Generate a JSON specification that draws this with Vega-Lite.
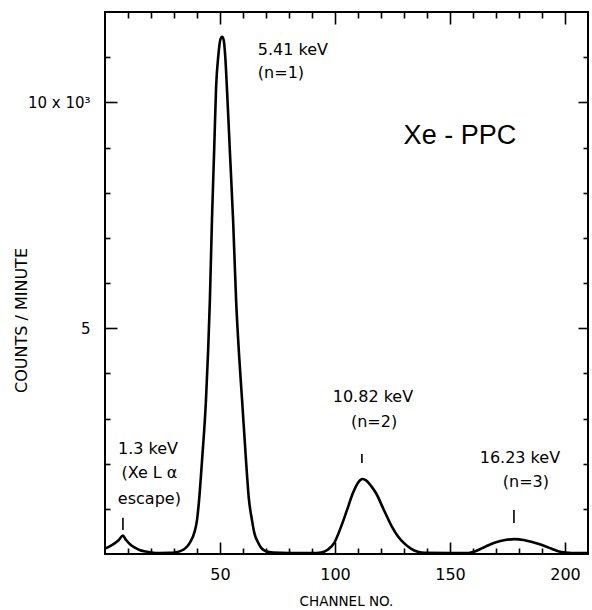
{
  "$schema": "https://vega.github.io/schema/vega-lite/v6.json",
  "autosize": {"type": "none"},
  "padding": {"left": 105, "top": 12, "right": 4, "bottom": 56},
  "width": 483,
  "height": 542,
  "background": "white",
  "config": {
    "view": {"stroke": "black", "strokeWidth": 2},
    "font": "DejaVu Sans",
    "axis": {"domain": false, "grid": false, "tickColor": "black", "tickWidth": 1.6, "labelOverlap": false, "labelFlush": false, "labelColor": "black", "titleColor": "black", "zindex": 1}
  },
  "resolve": {"axis": {"x": "independent", "y": "independent"}},
  "layer": [
    {
      "data": {"values": [
        {"ch": 0, "c": 120}, {"ch": 2, "c": 170}, {"ch": 4, "c": 230}, {"ch": 6, "c": 310},
        {"ch": 7.8, "c": 410}, {"ch": 9, "c": 320}, {"ch": 11, "c": 210}, {"ch": 13, "c": 140},
        {"ch": 15, "c": 90}, {"ch": 17, "c": 60}, {"ch": 20, "c": 35}, {"ch": 24, "c": 22},
        {"ch": 28, "c": 25}, {"ch": 31, "c": 40}, {"ch": 33, "c": 70}, {"ch": 35, "c": 130},
        {"ch": 37, "c": 260}, {"ch": 39, "c": 500}, {"ch": 40, "c": 750}, {"ch": 41, "c": 1250},
        {"ch": 42.2, "c": 2080}, {"ch": 43.9, "c": 3410}, {"ch": 45.6, "c": 5620}, {"ch": 46.5, "c": 7390},
        {"ch": 47.5, "c": 9000}, {"ch": 48.3, "c": 10330}, {"ch": 49.3, "c": 11050}, {"ch": 50.2, "c": 11400},
        {"ch": 50.9, "c": 11450}, {"ch": 51.6, "c": 11380}, {"ch": 52.3, "c": 11000}, {"ch": 53.0, "c": 10330},
        {"ch": 54.4, "c": 8800}, {"ch": 55.7, "c": 7390}, {"ch": 57.0, "c": 5620}, {"ch": 58.3, "c": 4400},
        {"ch": 59.6, "c": 3410}, {"ch": 61.3, "c": 2080}, {"ch": 62.5, "c": 1250}, {"ch": 63.9, "c": 750},
        {"ch": 65, "c": 450}, {"ch": 66.5, "c": 260}, {"ch": 68, "c": 130}, {"ch": 70, "c": 60},
        {"ch": 73, "c": 30}, {"ch": 80, "c": 22}, {"ch": 90, "c": 22}, {"ch": 94, "c": 35},
        {"ch": 97, "c": 100}, {"ch": 99.6, "c": 240}, {"ch": 102.6, "c": 600}, {"ch": 105.2, "c": 970},
        {"ch": 107.8, "c": 1350}, {"ch": 110, "c": 1580}, {"ch": 112, "c": 1660}, {"ch": 113.5, "c": 1630},
        {"ch": 115.5, "c": 1520}, {"ch": 117.8, "c": 1350}, {"ch": 121.3, "c": 970}, {"ch": 124.8, "c": 600},
        {"ch": 127.5, "c": 380}, {"ch": 130, "c": 240}, {"ch": 133, "c": 120}, {"ch": 136, "c": 50},
        {"ch": 139, "c": 25}, {"ch": 150, "c": 20}, {"ch": 158, "c": 22}, {"ch": 161, "c": 60},
        {"ch": 164, "c": 130}, {"ch": 167, "c": 200}, {"ch": 170, "c": 260}, {"ch": 174, "c": 310},
        {"ch": 178, "c": 330}, {"ch": 182, "c": 310}, {"ch": 186, "c": 260}, {"ch": 190, "c": 200},
        {"ch": 194, "c": 120}, {"ch": 197, "c": 60}, {"ch": 200, "c": 30}, {"ch": 203, "c": 20},
        {"ch": 210, "c": 20}
      ]},
      "mark": {"type": "line", "color": "black", "strokeWidth": 2.6, "interpolate": "monotone"},
      "encoding": {
        "x": {
          "field": "ch", "type": "quantitative",
          "scale": {"domain": [0, 210], "nice": false, "zero": false},
          "axis": {
            "orient": "bottom", "offset": -6,
            "values": [10,20,30,40,60,70,80,90,110,120,130,140,160,170,180,190],
            "labels": false, "tickSize": 6, "title": null
          }
        },
        "y": {
          "field": "c", "type": "quantitative",
          "scale": {"domain": [0, 12000], "nice": false, "zero": false},
          "axis": {
            "orient": "left", "offset": -5,
            "values": [1000,2000,3000,4000,6000,7000,8000,9000,11000],
            "labels": false, "tickSize": 5, "title": null
          }
        }
      }
    },
    {
      "data": {"values": [
        {"ch": 81.7, "c": 11158, "t": "5.41 keV"},
        {"ch": 76.5, "c": 10649, "t": "(n=1)"},
        {"ch": 116.5, "c": 3476, "t": "10.82 keV"},
        {"ch": 117, "c": 2922, "t": "(n=2)"},
        {"ch": 180.4, "c": 2125, "t": "16.23 keV"},
        {"ch": 183, "c": 1594, "t": "(n=3)"},
        {"ch": 18.7, "c": 2324, "t": "1.3 keV"},
        {"ch": 19.3, "c": 1793, "t": "(Xe L α"},
        {"ch": 19.3, "c": 1217, "t": "escape)"}
      ]},
      "mark": {"type": "text", "font": "DejaVu Sans", "fontSize": 16, "color": "black", "align": "center", "baseline": "middle"},
      "encoding": {
        "x": {
          "field": "ch", "type": "quantitative",
          "scale": {"domain": [0, 210], "nice": false, "zero": false},
          "axis": {
            "orient": "bottom", "offset": -12,
            "values": [50, 100, 150, 200],
            "tickSize": 12, "labelPadding": 12,
            "labelFont": "DejaVu Sans", "labelFontSize": 16,
            "title": "CHANNEL NO.",
            "titleFont": "DejaVu Sans", "titleFontSize": 13.5, "titleFontWeight": "normal",
            "titleX": 241, "titleY": 59, "titleBaseline": "middle", "titleAlign": "center"
          }
        },
        "y": {
          "field": "c", "type": "quantitative",
          "scale": {"domain": [0, 12000], "nice": false, "zero": false},
          "axis": {
            "orient": "left", "offset": -12,
            "values": [5000, 10000],
            "labelExpr": "datum.value === 10000 ? '10 x 10³' : '5'",
            "tickSize": 12, "labelPadding": 15,
            "labelFont": "DejaVu Sans", "labelFontSize": 15,
            "title": "COUNTS / MINUTE",
            "titleFont": "DejaVu Sans", "titleFontSize": 16, "titleFontWeight": "normal",
            "titleX": -96, "titleY": 308, "titleAngle": -90, "titleBaseline": "middle", "titleAlign": "center"
          }
        },
        "text": {"field": "t"}
      }
    },
    {
      "data": {"values": [
        {"ch": 7.8, "c1": 800, "c2": 530},
        {"ch": 111.7, "c1": 2214, "c2": 2015},
        {"ch": 177.8, "c1": 974, "c2": 686}
      ]},
      "mark": {"type": "rule", "color": "black", "strokeWidth": 1.6},
      "encoding": {
        "x": {
          "field": "ch", "type": "quantitative",
          "scale": {"domain": [0, 210], "nice": false, "zero": false},
          "axis": {
            "orient": "top", "offset": -6,
            "values": [10,20,30,40,60,70,80,90,110,120,130,140,160,170,180,190],
            "labels": false, "tickSize": 6, "title": null
          }
        },
        "y": {
          "field": "c1", "type": "quantitative",
          "scale": {"domain": [0, 12000], "nice": false, "zero": false},
          "axis": {
            "orient": "right", "offset": -5,
            "values": [1000,2000,3000,4000,6000,7000,8000,9000,11000],
            "labels": false, "tickSize": 5, "title": null
          }
        },
        "y2": {"field": "c2"}
      }
    },
    {
      "data": {"values": [{"ch": 154.3, "c": 9254, "t": "Xe - PPC"}]},
      "mark": {"type": "text", "font": "Liberation Sans", "fontSize": 27, "color": "black", "align": "center", "baseline": "middle"},
      "encoding": {
        "x": {
          "field": "ch", "type": "quantitative",
          "scale": {"domain": [0, 210], "nice": false, "zero": false},
          "axis": {
            "orient": "top", "offset": -12,
            "values": [50, 100, 150, 200],
            "labels": false, "tickSize": 12, "title": null
          }
        },
        "y": {
          "field": "c", "type": "quantitative",
          "scale": {"domain": [0, 12000], "nice": false, "zero": false},
          "axis": {
            "orient": "right", "offset": -10,
            "values": [5000, 10000],
            "labels": false, "tickSize": 10, "title": null
          }
        },
        "text": {"field": "t"}
      }
    }
  ]
}
